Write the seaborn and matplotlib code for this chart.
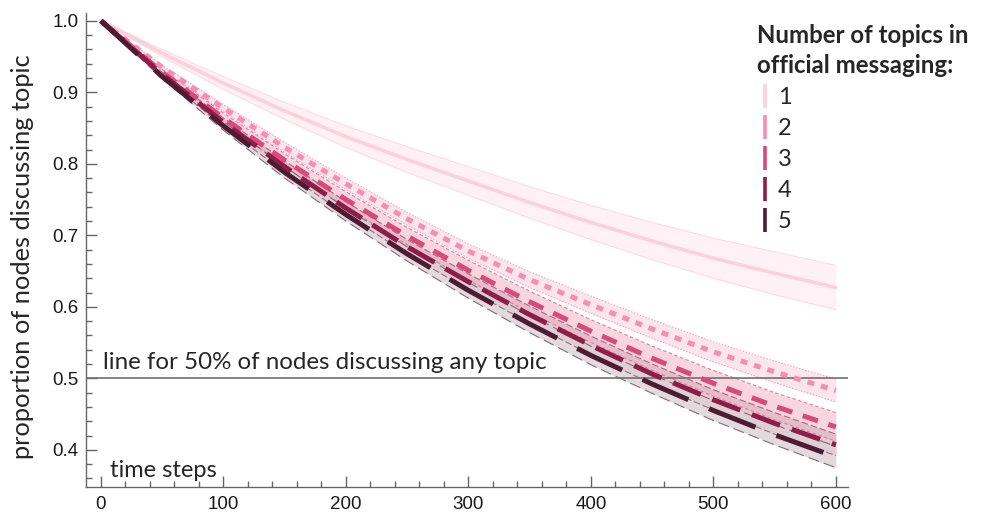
import numpy as np
import pandas as pd
import matplotlib
matplotlib.use("Agg")
import matplotlib.pyplot as plt
from matplotlib.lines import Line2D
import seaborn as sns

# values
times = [0, 50, 100, 150, 200, 250, 300, 350, 400, 450, 500, 550, 600]
topics = ["1", "2", "3", "4", "5"]
p1 = [1.000, 0.955, 0.913, 0.874, 0.838, 0.806, 0.776, 0.746, 0.718, 0.692, 0.668, 0.647, 0.627]
p2 = [1.000, 0.935, 0.878, 0.823, 0.772, 0.723, 0.678, 0.638, 0.603, 0.569, 0.537, 0.509, 0.483]
p3 = [1.000, 0.928, 0.864, 0.805, 0.750, 0.699, 0.651, 0.607, 0.566, 0.528, 0.493, 0.461, 0.432]
p4 = [1.000, 0.925, 0.858, 0.796, 0.738, 0.684, 0.635, 0.589, 0.546, 0.506, 0.470, 0.437, 0.407]
p5 = [1.000, 0.922, 0.853, 0.788, 0.729, 0.674, 0.623, 0.576, 0.532, 0.492, 0.455, 0.421, 0.390]
# half width of the shaded band around each curve
s1 = [0, 0.005, 0.009, 0.012, 0.015, 0.018, 0.020, 0.022, 0.024, 0.026, 0.028, 0.030, 0.031]
s2 = [0, 0.003, 0.005, 0.007, 0.008, 0.009, 0.010, 0.011, 0.012, 0.013, 0.014, 0.015, 0.016]
s3 = [0, 0.004, 0.007, 0.009, 0.011, 0.012, 0.014, 0.015, 0.016, 0.017, 0.018, 0.019, 0.020]
s4 = [0, 0.003, 0.006, 0.008, 0.009, 0.010, 0.011, 0.012, 0.013, 0.014, 0.014, 0.015, 0.015]
s5 = [0, 0.003, 0.006, 0.008, 0.009, 0.010, 0.011, 0.012, 0.013, 0.013, 0.014, 0.014, 0.015]

means = [p1, p2, p3, p4, p5]
spreads = [s1, s2, s3, s4, s5]

line_cols = ["#fcd0dd", "#f78db2", "#d9497b", "#8e1e48", "#4e1b31"]
edge_cols = ["#fcdbe5", "#f8a6c3", "#e47c9f", "#b0667f", "#8a6a76"]
band_cols = ["#fff0f4", "#fbdde7", "#f5c9d6", "#ddb7c3", "#dad2d5"]
band_alpha = [0.9, 0.75, 0.75, 0.75, 0.8]
line_w = [2.6, 3.6, 3.6, 3.6, 3.6]
styles = ["-", (0, (1.4, 1.4)), (0, (3.2, 2.2)), (0, (6, 2.5)), (0, (10, 4.5))]

sns.set_style("white")
plt.rcParams["font.family"] = ["Lato", "DejaVu Sans"]

fig = plt.figure(figsize=(9.91, 5.15), dpi=100)
ax = fig.add_axes([0.0868, 0.0544, 0.7690, 0.9204])

# bands first, then band edges, then the mean lines on top
for i in range(5):
    m = np.array(means[i])
    s = np.array(spreads[i])
    ax.fill_between(times, m - s, m + s, color=band_cols[i], alpha=band_alpha[i], lw=0, zorder=1)

for i in range(5):
    m = np.array(means[i])
    s = np.array(spreads[i])
    edge = pd.DataFrame({"time": times, "lo": m - s, "hi": m + s})
    for col in ["lo", "hi"]:
        sns.lineplot(data=edge, x="time", y=col, ax=ax, color=edge_cols[i], lw=0.8,
                     linestyle=styles[i] if i > 0 else "-", zorder=2)

ax.axhline(0.5, color="#707070", lw=1.2, zorder=2.5)

for i in range(5):
    df = pd.DataFrame({"time": times, "value": means[i]})
    sns.lineplot(data=df, x="time", y="value", ax=ax, color=line_cols[i], lw=line_w[i],
                 linestyle=styles[i], zorder=3 + i)

ax.set_xlim(-12.2, 610)
ax.set_ylim(0.348, 1.011)
ax.set_xticks([0, 100, 200, 300, 400, 500, 600])
ax.set_xticks(np.arange(0, 601, 20), minor=True)
ax.set_yticks([0.4, 0.5, 0.6, 0.7, 0.8, 0.9, 1.0])
ax.set_yticks(np.arange(0.36, 1.001, 0.02), minor=True)
ax.set_yticklabels(["0.4", "0.5", "0.6", "0.7", "0.8", "0.9", "1.0"])
ax.tick_params(which="both", direction="in", color="#666666", width=1.0,
               bottom=True, left=True)
ax.tick_params(which="major", length=8, labelsize=13.5, labelcolor="#1a1a1a")
ax.tick_params(which="minor", length=4.5)
ax.tick_params(axis="y", which="major", pad=5.5)
ax.tick_params(axis="x", which="major", pad=6.5)
for lab in ax.get_xticklabels() + ax.get_yticklabels():
    lab.set_fontfamily("Liberation Sans")

for side in ["top", "right"]:
    ax.spines[side].set_visible(False)
for side in ["left", "bottom"]:
    ax.spines[side].set_color("#666666")
    ax.spines[side].set_linewidth(1.0)

ax.set_xlabel("")
ax.set_ylabel("proportion of nodes discussing topic", fontsize=18.3)
ax.yaxis.set_label_coords(-0.068, 0.485)

ax.text(2, 0.5135, "line for 50% of nodes discussing any topic", fontsize=17.4,
        va="baseline", ha="left")
ax.text(7.5, 0.362, "time steps", fontsize=17, va="baseline", ha="left")

handles = [Line2D([], [], marker="|", linestyle="None", markersize=17, mew=2.6,
                  color=line_cols[i]) for i in range(5)]
leg = fig.legend(handles, topics, loc="upper left", bbox_to_anchor=(0.747, 0.985),
                 frameon=False, fontsize=17, handlelength=0.7, handletextpad=0.2,
                 labelspacing=0.42, title="Number of topics in\nofficial messaging:",
                 title_fontproperties={"weight": "bold", "size": 17.3},
                 alignment="left", borderpad=0.2)
leg.get_title().set_linespacing(1.38)

fig.savefig("out.png", dpi=100)
